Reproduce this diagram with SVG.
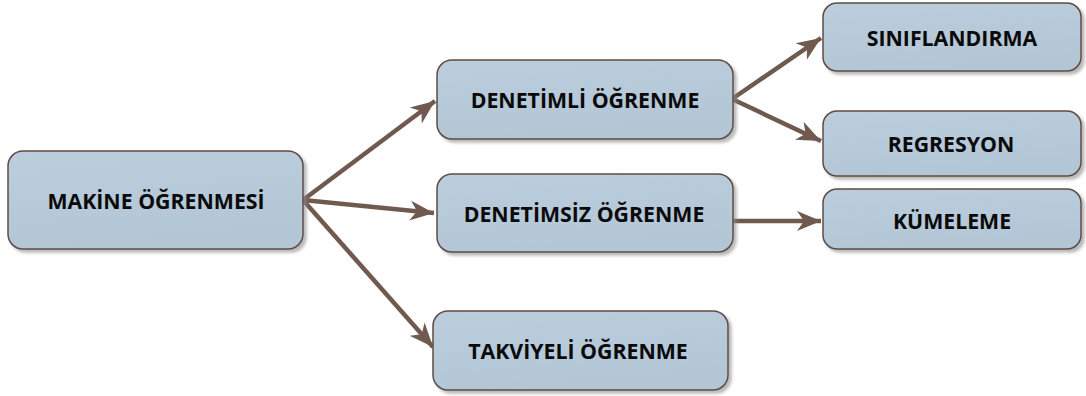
<svg xmlns="http://www.w3.org/2000/svg" width="1086" height="396" viewBox="0 0 1086 396">
<defs>
<linearGradient id="g" x1="0" y1="0" x2="0.3" y2="1">
<stop offset="0" stop-color="#BCCEDE"/>
<stop offset="1" stop-color="#B3C6D6"/>
</linearGradient>
<filter id="sh" x="-5%" y="-5%" width="115%" height="130%">
<feDropShadow dx="3" dy="3" stdDeviation="1.5" flood-color="#8a8a8a" flood-opacity="0.6"/>
</filter>
<marker id="ah" markerUnits="userSpaceOnUse" markerWidth="26" markerHeight="22" viewBox="0 0 26 22" refX="24" refY="11" orient="auto">
<path d="M0,1 L24,11 L0,21 L7,11 Z" fill="#705A50"/>
</marker>
<style>
.box{fill:url(#g);stroke:#5E4C44;stroke-width:1.5;filter:url(#sh)}
.lbl{font-family:"Open Sans","Liberation Sans",sans-serif;font-weight:700;font-size:21.3px;fill:#0a0a0a;text-anchor:middle;dominant-baseline:central}
.c{stroke:#705A50;stroke-width:4.5;fill:none;marker-end:url(#ah)}
</style>
</defs>
<g id="connectors">
<line class="c" x1="303" y1="200" x2="435" y2="101"/>
<line class="c" x1="303" y1="200" x2="434" y2="213"/>
<line class="c" x1="303" y1="200" x2="433" y2="347"/>
<line class="c" x1="732" y1="99" x2="821" y2="38"/>
<line class="c" x1="732" y1="99" x2="821" y2="141"/>
<line class="c" x1="733" y1="221" x2="821" y2="221"/>
</g>
<g id="n-makine">
<rect class="box" x="8" y="151" width="295" height="98" rx="15"/>
<text class="lbl" x="156" y="200">MAKİNE ÖĞRENMESİ</text>
</g>
<g id="n-denetimli">
<rect class="box" x="437" y="60" width="296" height="79" rx="15"/>
<text class="lbl" x="585" y="99">DENETİMLİ ÖĞRENME</text>
</g>
<g id="n-denetimsiz">
<rect class="box" x="437" y="174" width="296" height="78" rx="15"/>
<text class="lbl" x="584" y="213">DENETİMSİZ ÖĞRENME</text>
</g>
<g id="n-takviyeli">
<rect class="box" x="433" y="311" width="295" height="79" rx="15"/>
<text class="lbl" x="578" y="350">TAKVİYELİ ÖĞRENME</text>
</g>
<g id="n-siniflandirma">
<rect class="box" x="823" y="3" width="258" height="68" rx="14"/>
<text class="lbl" x="952" y="37">SINIFLANDIRMA</text>
</g>
<g id="n-regresyon">
<rect class="box" x="823" y="111" width="258" height="65" rx="14"/>
<text class="lbl" x="951" y="143">REGRESYON</text>
</g>
<g id="n-kumeleme">
<rect class="box" x="823" y="189" width="258" height="60" rx="14"/>
<text class="lbl" x="952" y="220">KÜMELEME</text>
</g>
</svg>
